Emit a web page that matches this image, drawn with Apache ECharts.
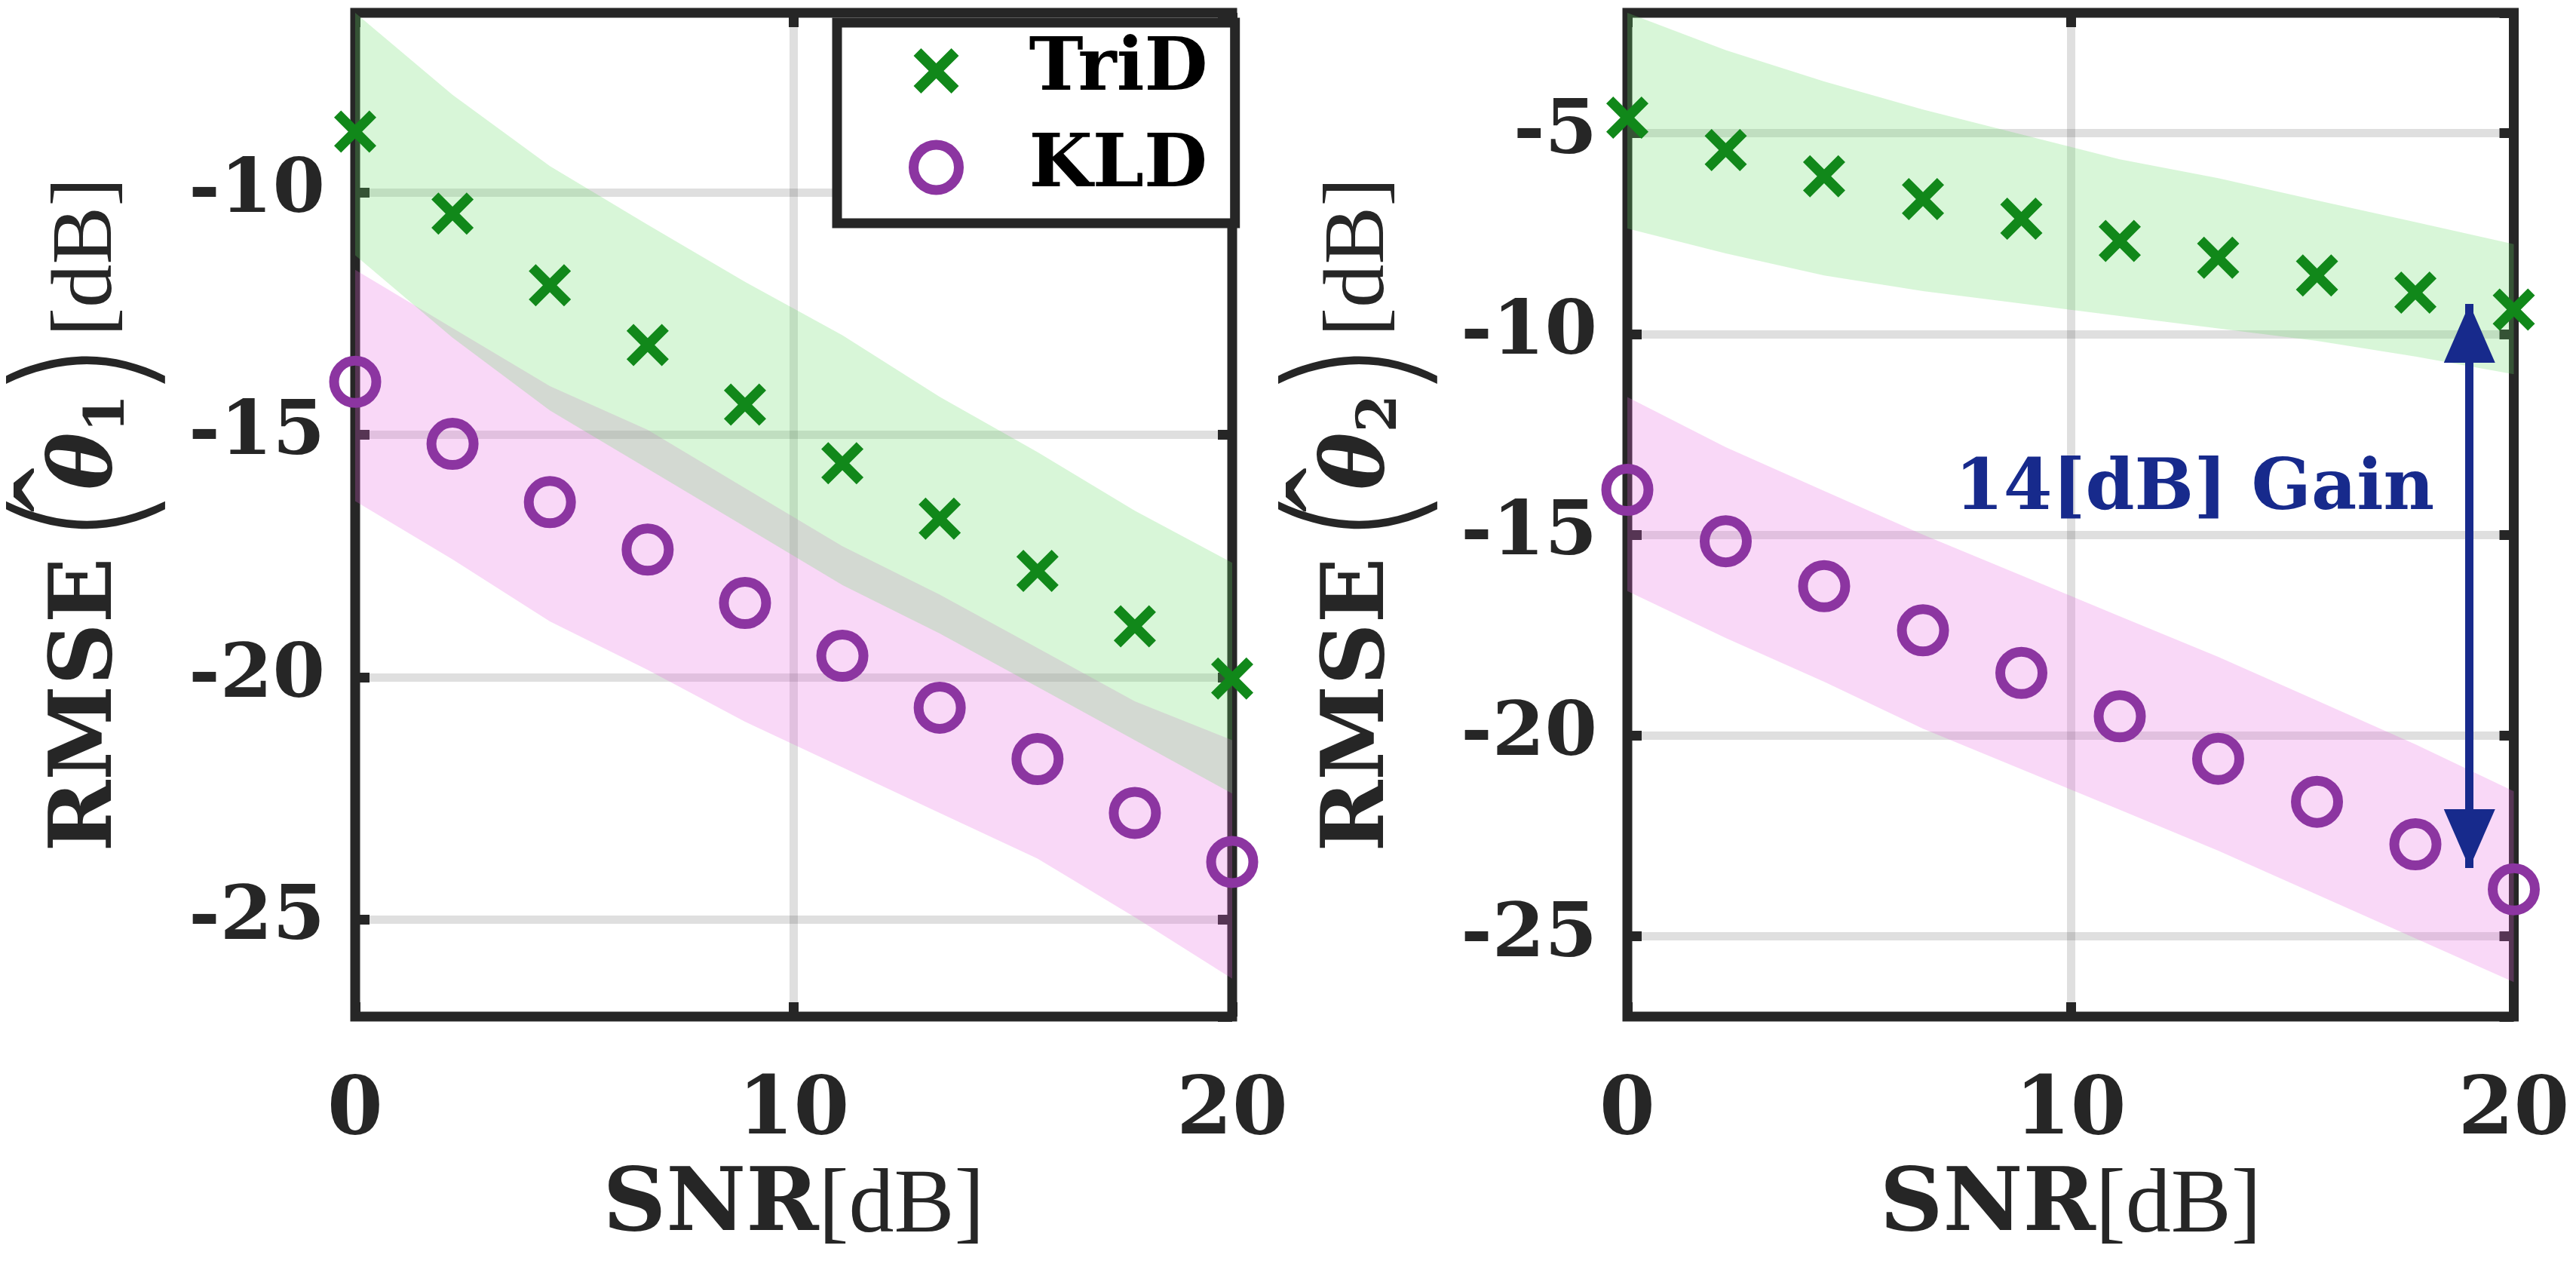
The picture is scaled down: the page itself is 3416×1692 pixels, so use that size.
<!DOCTYPE html>
<html><head><meta charset="utf-8">
<script src="https://cdn.jsdelivr.net/npm/echarts@6/dist/echarts.min.js"></script>
<style>html,body{margin:0;padding:0;background:#fff}#c{width:3416px;height:1692px}</style>
</head><body><div id="c"></div><script>
// ---------------- data ----------------
const snr = [0, 2.22, 4.44, 6.67, 8.89, 11.11, 13.33, 15.56, 17.78, 20];
const xTickStep = 10;
const seriesNames = ['TriD', 'KLD'];

// Left panel: RMSE(theta_1)
const trid1   = [-8.75, -10.44, -11.92, -13.15, -14.38, -15.59, -16.73, -17.81, -18.95, -20.03];
const kld1    = [-13.91, -15.19, -16.39, -17.37, -18.47, -19.56, -20.63, -21.69, -22.80, -23.81];
const trid1Hi = [-6.3, -7.99, -9.46, -10.67, -11.85, -12.95, -14.22, -15.36, -16.57, -17.64];
const trid1Lo = [-11.3, -13.0, -14.5, -15.7, -16.9, -18.1, -19.1, -20.2, -21.3, -22.4];
const kld1Hi  = [-11.6, -12.8, -14.0, -14.9, -16.1, -17.3, -18.3, -19.4, -20.5, -21.3];
const kld1Lo  = [-16.37, -17.57, -18.85, -19.85, -20.92, -21.86, -22.8, -23.74, -24.95, -26.22];
const y1Range = [-27, -6.3];

// Right panel: RMSE(theta_2)
const trid2   = [-4.61, -5.42, -6.07, -6.64, -7.13, -7.68, -8.10, -8.54, -8.97, -9.39];
const kld2    = [-13.88, -15.16, -16.28, -17.38, -18.44, -19.52, -20.58, -21.65, -22.71, -23.83];
const trid2Hi = [-2.0, -2.93, -3.71, -4.41, -5.03, -5.65, -6.12, -6.67, -7.21, -7.76];
const trid2Lo = [-7.37, -7.99, -8.54, -8.93, -9.24, -9.55, -9.86, -10.17, -10.56, -11.0];
const kld2Hi  = [-11.57, -12.82, -13.91, -15.0, -16.01, -17.03, -18.04, -19.13, -20.22, -21.39];
const kld2Lo  = [-16.4, -17.57, -18.66, -19.83, -20.84, -21.85, -22.87, -23.96, -25.05, -26.14];
const y2Range = [-27, -2.0];

// annotation (right panel)
const gainText = '14[dB] Gain';
const gainArrowX = 19;
const gainArrowFrom = -9.25;
const gainArrowTo = -23.3;
const gainLabelY = -13.9;

// ---------------- styles ----------------
const INK = '#262626';
const GREEN = '#11881a';
const PURPLE = '#8c35a1';
const NAVY = '#172a8c';
const GREEN_FILL = 'rgba(100,220,100,0.25)';
const PINK_FILL = 'rgba(232,100,222,0.25)';
const GRID_COLOR = 'rgba(38,38,38,0.15)';
const CROSS = 'path://M0,16.5L16.5,0L50,33.5L83.5,0L100,16.5L66.5,50L100,83.5L83.5,100L50,66.5L16.5,100L0,83.5L33.5,50Z';
const THIN = "'DejaVu Sans ExtraLight', Inter, 'Liberation Serif'";
const TICK = {show: true, inside: true, length: 19, lineStyle: {color: INK, width: 13}};

const pairs = arr => snr.map((x, i) => [x, arr[i]]);

function yName(sub) {
  return '{b|RMSE}{p|(}{h|\u02C6}{t|\u03B8}{s|' + sub + '}{p|)}{n|[dB]}';
}
const yRich = {
  b: {fontFamily: 'DejaVu Serif', fontWeight: 'bold', fontSize: 114, color: INK, padding: [0, 12, 0, 0]},
  p: {fontFamily: THIN, fontWeight: 200, fontSize: 232, color: INK, padding: [0, 0, 0, 0]},
  h: {fontFamily: 'Liberation Serif', fontSize: 180, color: INK, width: 1, padding: [0, 0, 40, 0]},
  t: {fontFamily: 'DejaVu Serif', fontWeight: 'bold', fontStyle: 'italic', fontSize: 114, color: INK},
  s: {fontFamily: 'DejaVu Serif', fontWeight: 'bold', fontSize: 72, color: INK, padding: [56, 0, 0, 0]},
  n: {fontFamily: 'Liberation Serif', fontSize: 115, color: INK}
};

function xAxes(gi) {
  const base = {type: 'value', gridIndex: gi, min: snr[0], max: snr[snr.length - 1], interval: xTickStep};
  return [
    Object.assign({}, base, {
      position: 'bottom',
      axisLine: {show: false, onZero: false},
      axisTick: TICK,
      axisLabel: {show: true, margin: 74, fontFamily: 'DejaVu Serif', fontWeight: 'bold', fontSize: 106, color: INK},
      splitLine: {show: true, lineStyle: {color: GRID_COLOR, width: 11}},
      name: '{b|SNR}{n|[dB]}', nameLocation: 'middle', nameGap: 193,
      nameTextStyle: {rich: {
        b: {fontFamily: 'DejaVu Serif', fontWeight: 'bold', fontSize: 116, color: INK},
        n: {fontFamily: 'Liberation Serif', fontSize: 120, color: INK}
      }}
    }),
    Object.assign({}, base, {
      position: 'top',
      axisLine: {show: false, onZero: false},
      axisTick: TICK,
      axisLabel: {show: false}, splitLine: {show: false}
    })
  ];
}
function yAxes(gi, range, sub) {
  const base = {type: 'value', gridIndex: gi, min: range[0], max: range[1], minInterval: 5, maxInterval: 5};
  return [
    Object.assign({}, base, {
      position: 'left',
      axisLine: {show: false, onZero: false},
      axisTick: TICK,
      axisLabel: {show: true, margin: 40, showMinLabel: false, showMaxLabel: false, padding: [24, 0, 0, 0],
        fontFamily: 'DejaVu Serif', fontWeight: 'bold', fontSize: 100, color: INK},
      splitLine: {show: true, lineStyle: {color: GRID_COLOR, width: 11}},
      name: yName(sub), nameLocation: 'middle', nameRotate: 90, nameGap: 238,
      nameTextStyle: {rich: yRich}
    }),
    Object.assign({}, base, {
      position: 'right',
      axisLine: {show: false, onZero: false},
      axisTick: TICK,
      axisLabel: {show: false}, splitLine: {show: false}
    })
  ];
}

// shaded band: one polygon along the upper edge and back along the lower edge, placed by the axes
function bandSeries(gi, hi, lo, fill) {
  const rows = snr.map((x, i) => [x, lo[i], hi[i]]);
  return {
    type: 'custom', xAxisIndex: 2 * gi, yAxisIndex: 2 * gi, silent: true, z: 1,
    data: rows, encode: {x: 0, y: [1, 2]},
    renderItem: function (params, api) {
      if (params.dataIndex !== 0) return null;
      const pts = [];
      rows.forEach(r => pts.push(api.coord([r[0], r[2]])));
      rows.slice().reverse().forEach(r => pts.push(api.coord([r[0], r[1]])));
      return {type: 'polygon', shape: {points: pts}, style: {fill: fill}, silent: true};
    }
  };
}
function markerSeries(gi, trid, kld, extra) {
  const t = {type: 'scatter', name: seriesNames[0], xAxisIndex: 2 * gi, yAxisIndex: 2 * gi,
    data: pairs(trid), symbol: CROSS, symbolSize: 56, itemStyle: {color: GREEN, opacity: 1}, clip: false, z: 4};
  const k = Object.assign({type: 'scatter', name: seriesNames[1], xAxisIndex: 2 * gi, yAxisIndex: 2 * gi,
    data: pairs(kld), symbol: 'circle', symbolSize: 56,
    itemStyle: {color: 'rgba(0,0,0,0)', borderColor: PURPLE, borderWidth: 13, opacity: 1}, clip: false, z: 4}, extra || {});
  return [t, k];
}

const annotation = {
  markLine: {
    silent: true, animation: false,
    symbol: ['triangle', 'triangle'], symbolSize: [68, 78], symbolOffset: [[0, 39], [0, 39]],
    lineStyle: {color: NAVY, width: 11, type: 'solid', opacity: 1},
    itemStyle: {color: NAVY},
    label: {show: false},
    data: [[{coord: [gainArrowX, gainArrowFrom]}, {coord: [gainArrowX, gainArrowTo]}]]
  },
  markPoint: {
    silent: true, animation: false, symbol: 'circle', symbolSize: 1, itemStyle: {color: 'rgba(0,0,0,0)'},
    label: {show: true, position: 'left', distance: 46, formatter: gainText,
      fontFamily: 'DejaVu Serif', fontWeight: 'bold', fontSize: 93, color: NAVY},
    data: [{coord: [gainArrowX, gainLabelY]}]
  }
};

const frame = {show: true, borderColor: INK, borderWidth: 13, backgroundColor: 'rgba(0,0,0,0)', containLabel: false};

const option = {
  backgroundColor: '#ffffff',
  animation: false,
  grid: [
    Object.assign({left: 458.5, top: 17, width: 1175.5, height: 1331}, frame),
    Object.assign({left: 2158, top: 17, width: 1175.5, height: 1331}, frame)
  ],
  xAxis: [].concat(xAxes(0), xAxes(1)),
  yAxis: [].concat(yAxes(0, y1Range, '1'), yAxes(1, y2Range, '2')),
  legend: {
    show: true, orient: 'vertical', left: 1110, top: 30,
    backgroundColor: '#ffffff', borderColor: INK, borderWidth: 13,
    padding: [14, 36, 24, 95], itemGap: 28, itemWidth: 60, itemHeight: 60,
    textStyle: {fontFamily: 'DejaVu Serif', fontWeight: 'bold', fontSize: 97, color: '#000', lineHeight: 100, padding: [0, 0, 0, 88]},
    data: [
      {name: seriesNames[0], icon: CROSS, itemStyle: {color: GREEN, borderWidth: 0, opacity: 1}},
      {name: seriesNames[1], icon: 'circle', itemStyle: {color: 'rgba(0,0,0,0)', borderColor: PURPLE, borderWidth: 13, opacity: 1}}
    ],
    selectedMode: false, z: 10
  },
  series: [].concat(
    bandSeries(0, kld1Hi, kld1Lo, PINK_FILL),
    bandSeries(0, trid1Hi, trid1Lo, GREEN_FILL),
    markerSeries(0, trid1, kld1),
    bandSeries(1, kld2Hi, kld2Lo, PINK_FILL),
    bandSeries(1, trid2Hi, trid2Lo, GREEN_FILL),
    markerSeries(1, trid2, kld2, annotation)
  )
};

const chart = echarts.init(document.getElementById('c'), null, {renderer: 'canvas'});
chart.setOption(option);
</script></body></html>
